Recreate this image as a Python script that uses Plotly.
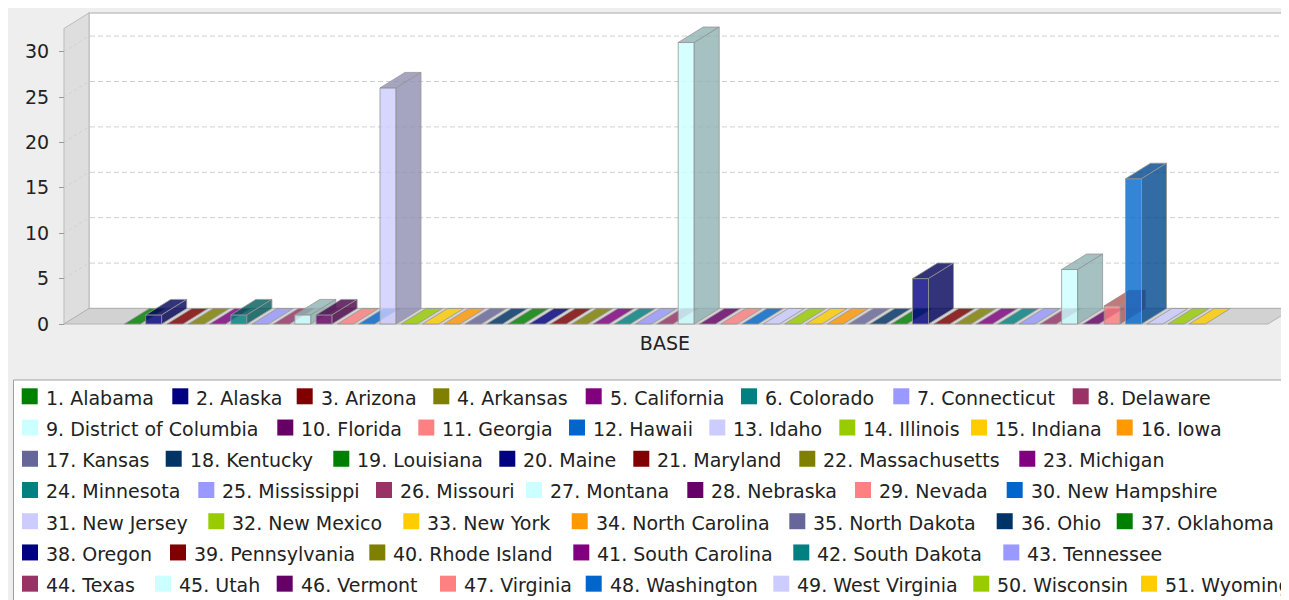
import plotly.graph_objects as go

# ---------------- data ----------------
states = ["Alabama", "Alaska", "Arizona", "Arkansas", "California", "Colorado",
          "Connecticut", "Delaware", "District of Columbia", "Florida", "Georgia",
          "Hawaii", "Idaho", "Illinois", "Indiana", "Iowa", "Kansas", "Kentucky",
          "Louisiana", "Maine", "Maryland", "Massachusetts", "Michigan", "Minnesota",
          "Mississippi", "Missouri", "Montana", "Nebraska", "Nevada", "New Hampshire",
          "New Jersey", "New Mexico", "New York", "North Carolina", "North Dakota",
          "Ohio", "Oklahoma", "Oregon", "Pennsylvania", "Rhode Island",
          "South Carolina", "South Dakota", "Tennessee", "Texas", "Utah", "Vermont",
          "Virginia", "Washington", "West Virginia", "Wisconsin", "Wyoming"]
values = [0, 1, 0, 0, 0, 1, 0, 0, 1, 1,
          0, 0, 26, 0, 0, 0, 0, 0, 0, 0,
          0, 0, 0, 0, 0, 0, 31, 0, 0, 0,
          0, 0, 0, 0, 0, 0, 0, 5, 0, 0,
          0, 0, 0, 0, 6, 0, 2, 16, 0, 0,
          0]
category = "BASE"
y_ticks = [0, 5, 10, 15, 20, 25, 30]
palette = ["#008000", "#000080", "#800000", "#808000", "#800080", "#008080",
           "#9999FF", "#993366", "#CCFFFF", "#660066", "#FF8080", "#0066CC",
           "#CCCCFF", "#99CC00", "#FFCC00", "#FF9900", "#666699", "#003366"]

# legend layout (rows of series numbers, swatch left edges in window px)
legend_rows = [list(range(1, 9)), list(range(9, 17)), list(range(17, 24)),
               list(range(24, 31)), list(range(31, 38)), list(range(38, 44)),
               list(range(44, 52))]
legend_x = [[21.7, 172.3, 296.7, 433.3, 585.7, 741, 893.3, 1072.7],
            [22, 277.3, 418.3, 569, 709.3, 839.3, 971, 1116.7],
            [22, 165.7, 333.3, 499.3, 633.3, 799.3, 1019.3],
            [22, 198.3, 376, 526, 687.3, 855, 1006.7],
            [22, 208.3, 403.3, 571.7, 789.3, 996.7, 1116.7],
            [22, 170, 369.3, 573.3, 793.3, 1003.3],
            [22, 155, 276.7, 440, 585.7, 773.3, 973.3, 1141]]

# ---------------- geometry ----------------
# the page places the figure at (8, 8) in the window
OFF = 8
W_PX, H_PX = 1281, 592


def px(x):  # window px -> paper x
    return (x - OFF) / W_PX


def py(y):  # window px -> paper y
    return 1 - (y - OFF) / H_PX


Y0, YS = 324.0 - OFF, 9.08          # figure pixel of value 0, px per unit
X_C0, XS = 111.1 - OFF, 21.3        # figure pixel of series index 0 centre, px per series
yrange = [(Y0 - H_PX) / YS, Y0 / YS]
xrange = [(0 - X_C0) / XS, (W_PX - X_C0) / XS]
DX, DY = 25 / XS, 15.5 / YS    # 3D offset in data units
HW = 8 / XS                    # half bar width
ymax = max(values) * 1.05
ALPHA = 0.8
FONT = "DejaVu Sans"


def hex_rgb(h):
    h = h.lstrip("#")
    return tuple(int(h[k:k + 2], 16) for k in (0, 2, 4))


def rgba(rgb, a):
    return "rgba(%d,%d,%d,%.2f)" % (rgb[0], rgb[1], rgb[2], a)


def darker(rgb):
    return tuple(int(c * 0.7) for c in rgb)


fig = go.Figure()
edge = dict(color="rgba(150,150,150,0.8)", width=1)

for i, (name, v) in enumerate(zip(states, values), start=1):
    base = hex_rgb(palette[(i - 1) % len(palette)])
    dark = darker(base)
    if v > 0:
        # front face
        fig.add_trace(go.Scatter(
            x=[i - HW, i + HW, i + HW, i - HW, i - HW], y=[0, 0, v, v, 0],
            mode="lines", fill="toself", fillcolor=rgba(base, ALPHA), line=edge,
            name=name, showlegend=False, hoverinfo="skip"))
        top_col = rgba(dark, ALPHA)
    else:
        top_col = rgba(base, ALPHA)
    # top face
    fig.add_trace(go.Scatter(
        x=[i - HW, i - HW + DX, i + HW + DX, i + HW, i - HW],
        y=[v, v + DY, v + DY, v, v],
        mode="lines", fill="toself", fillcolor=top_col, line=edge,
        name=name, showlegend=False, hoverinfo="skip"))
    if v > 0:
        # right side face
        fig.add_trace(go.Scatter(
            x=[i + HW, i + HW + DX, i + HW + DX, i + HW, i + HW],
            y=[0, DY, v + DY, v, 0],
            mode="lines", fill="toself", fillcolor=rgba(dark, ALPHA), line=edge,
            name=name, showlegend=False, hoverinfo="skip"))

shapes = []
# back wall
shapes.append(dict(type="rect", xref="paper", yref="y", x0=px(89), x1=1.02, y0=DY, y1=ymax + DY,
                   fillcolor="white", line=dict(color="#C4C4C4", width=1.5), layer="below"))
# left wall
shapes.append(dict(type="path", xref="paper", yref="y",
                   path="M %f,%f L %f,%f L %f,%f L %f,%f Z" % (px(64), 0, px(89), DY, px(89), ymax + DY, px(64), ymax),
                   fillcolor="#DEDEDE", line=dict(color="#BBBBBB", width=1), layer="below"))
# grid lines on back wall + wall diagonals
for t in y_ticks[1:]:
    shapes.append(dict(type="line", xref="paper", yref="y", x0=px(90), x1=1, y0=t + DY, y1=t + DY,
                       line=dict(color="#CFCFCF", width=1, dash="5px,3px"), layer="below"))
    shapes.append(dict(type="line", xref="paper", yref="y", x0=px(64), x1=px(89), y0=t, y1=t + DY,
                       line=dict(color="#D0D0D0", width=1, dash="3px,3px"), layer="below"))
# floor
shapes.append(dict(type="path", xref="paper", yref="y",
                   path="M %f,%f L %f,%f L %f,%f L %f,%f Z" % (px(64), 0, px(1268), 0, px(1293), DY, px(89), DY),
                   fillcolor="#D2D2D2", line=dict(color="#B4B4B4", width=1), layer="below"))

# legend box
shapes.append(dict(type="rect", xref="paper", yref="paper", x0=px(13.5), x1=px(1300), y0=py(601), y1=py(380),
                   fillcolor="white", line=dict(color="#A0A0A0", width=1), layer="above"))
annotations = []
ROW0, ROWS = 396.3, 31.23
for r, (items, xs) in enumerate(zip(legend_rows, legend_x)):
    yc = ROW0 + r * ROWS
    for n, sx in zip(items, xs):
        col = palette[(n - 1) % len(palette)]
        shapes.append(dict(type="rect", xref="paper", yref="paper",
                           x0=px(sx), x1=px(sx + 16), y0=py(yc + 8), y1=py(yc - 8),
                           fillcolor=col, line_width=0, layer="above"))
        annotations.append(dict(xref="paper", yref="paper", x=px(sx + 22), y=py(yc + 1.5),
                                xanchor="left", yanchor="middle", showarrow=False,
                                text="%d. %s" % (n, states[n - 1]),
                                font=dict(family=FONT, size=19, color="#222222")))

fig.update_layout(
    width=W_PX, height=H_PX,
    margin=dict(l=0, r=0, t=0, b=0, autoexpand=False),
    paper_bgcolor="#EEEEEE", plot_bgcolor="rgba(0,0,0,0)",
    showlegend=False,
    shapes=shapes, annotations=annotations,
    xaxis=dict(range=xrange, domain=[0, 1], anchor="free", position=py(324),
               tickvals=[(len(states) + 1) / 2], ticktext=[category], ticks="",
               showgrid=False, zeroline=False, showline=False, fixedrange=True,
               ticklabelstandoff=6,
               tickfont=dict(family=FONT, size=19, color="#222222")),
    yaxis=dict(range=yrange, domain=[0, 1], anchor="free", position=px(64),
               tickvals=y_ticks, ticks="outside", ticklen=5, tickcolor="#999999",
               showgrid=False, zeroline=False, showline=False, fixedrange=True,
               ticklabelstandoff=6,
               tickfont=dict(family=FONT, size=19, color="#222222")),
)

fig.write_html("out.html")
